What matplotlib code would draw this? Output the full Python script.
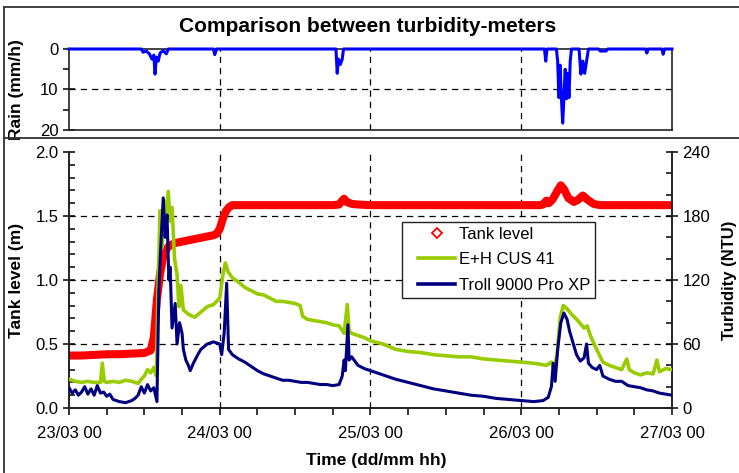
import pandas as pd
import matplotlib
matplotlib.use('Agg')
import matplotlib.pyplot as plt
import matplotlib.dates as mdates
from matplotlib.lines import Line2D
from matplotlib.legend_handler import HandlerLine2D
from matplotlib.ticker import MultipleLocator, FormatStrFormatter

plt.rcParams['font.family'] = ['Liberation Sans', 'DejaVu Sans']
plt.rcParams['font.size'] = 12

START = pd.Timestamp('2008-03-23 00:00')

# rain intensity (mm/h), hours since 23/03 00
rain_hours = [0, 11.5, 11.8, 12.3, 12.8, 13.2, 13.5, 13.7, 13.9, 14.2, 14.5, 15.0, 15.5, 15.8,
              23.0, 23.2, 23.5, 42.5, 42.7, 42.9, 43.2, 43.5, 43.7,
              75.7, 75.9, 76.1, 77.6, 77.8, 78.0, 78.2, 78.4, 78.6, 78.8, 79.0, 79.2, 79.4,
              79.6, 79.8, 80.0,
              81.2, 81.5, 81.8, 82.1, 82.4, 82.7, 84.3, 84.6, 85.5, 85.8,
              91.8, 92.0, 92.2, 94.4, 94.6, 94.8, 96]
rain_mmh = [0, 0, 0.8, 0.5, 1.2, 2.5, 1.5, 6.2, 2.0, 3.0, 1.0, 0.4, 1.2, 0,
            0, 1.4, 0, 0, 6.0, 2.5, 3.8, 2.5, 0,
            0, 3.0, 0, 0, 3.0, 12.0, 4.0, 12.3, 18.3, 12.0, 5.0, 12.3, 6.0,
            12.0, 3.0, 0,
            0, 6.2, 3.0, 6.0, 3.0, 0, 0, 0.5, 0.5, 0,
            0, 1.0, 0, 0, 1.3, 0, 0]

# tank level (m)
tank_hours = [0, 2, 4, 6, 8, 10, 12, 13, 13.5, 14, 14.5, 15, 15.5, 16, 17, 18, 19, 20, 21, 22,
              23, 23.5, 24, 24.5, 25, 25.5, 26, 30, 34, 38, 42, 43, 43.5, 43.8, 44.2, 45, 46,
              48, 56, 64, 72, 75, 75.5, 76, 76.4, 77, 77.8, 78.3, 78.8, 79.5, 80.4, 81, 81.8,
              82.5, 83.5, 84.5, 90, 96]
tank_level_m = [0.41, 0.41, 0.415, 0.42, 0.42, 0.425, 0.43, 0.45, 0.55, 0.85, 1.05, 1.18, 1.24,
                1.27, 1.29, 1.30, 1.31, 1.32, 1.33, 1.34, 1.35, 1.36, 1.40, 1.48, 1.54, 1.57,
                1.585, 1.585, 1.585, 1.585, 1.585, 1.59, 1.62, 1.635, 1.61, 1.595, 1.59,
                1.585, 1.585, 1.585, 1.585, 1.585, 1.59, 1.62, 1.60, 1.63, 1.70, 1.74, 1.71,
                1.64, 1.61, 1.625, 1.66, 1.63, 1.595, 1.585, 1.585, 1.585]

# turbidity E+H CUS 41 (NTU)
eh_hours = [0, 1, 2, 3, 4, 5, 5.3, 5.6, 6, 7, 8, 9, 10, 11, 11.5, 12, 12.5, 13, 13.5, 13.9,
            14.2, 14.5, 14.8, 15.1, 15.4, 15.8, 16.1, 16.4, 16.8, 17.2, 17.5, 17.8, 18.2,
            19, 20, 21, 22, 23, 24, 24.5, 24.9, 25.3, 26, 27, 28, 29, 30, 31, 32, 33, 34,
            35, 36, 36.8, 37.2, 38, 39, 40, 41, 42, 43, 43.8, 44.3, 44.6, 45, 46, 47, 48,
            50, 52, 54, 56, 58, 60, 62, 64, 66, 68, 70, 72, 74, 76, 76.8, 77.2, 77.7, 78.2,
            78.7, 79.3, 80, 81, 82, 82.5, 83, 84, 85, 86, 87, 88, 88.8, 89.2, 90, 91, 92,
            93, 93.6, 94, 95, 96]
eh_ntu = [27, 25, 24, 25, 24, 24, 42, 25, 24, 25, 24, 26, 25, 23, 27, 30, 36, 33, 38, 30,
          120, 185, 150, 195, 170, 203, 175, 188, 140, 125, 95, 115, 92,
          88, 85, 90, 95, 97, 103, 125, 136, 128, 122, 118, 113, 110, 107, 106, 103, 100, 100,
          99, 98, 96, 86, 83, 82, 81, 80, 78, 77, 70, 97, 72, 70, 68, 66, 63,
          60, 55, 53, 52, 50, 49, 48, 48, 46, 45, 44, 43, 42, 40, 43, 36, 50, 85,
          96, 93, 88, 82, 75, 77, 68, 55, 43, 40, 38, 36, 46, 36, 33, 31, 33,
          32, 45, 34, 37, 36]

# turbidity Troll 9000 Pro XP (NTU)
troll_hours = [0, 0.5, 1, 1.5, 2, 2.5, 3, 3.5, 4, 4.5, 5, 5.5, 6, 6.5, 7, 8, 9, 10, 10.5, 11,
               11.5, 12, 12.5, 13, 13.5, 14, 14.3, 14.6, 15.0, 15.3, 15.6, 15.9, 16.1, 16.4,
               16.9, 17.2, 17.6, 18.0, 18.2, 18.6, 19, 19.3, 19.8, 20.5, 21, 22, 23, 24, 24.3,
               24.7, 25.1, 25.4, 26, 27, 28, 29, 30, 31, 32, 33, 34, 35, 36, 37, 38, 39, 40,
               41, 42, 43, 43.5, 43.8, 44, 44.4, 44.6, 45, 45.5, 46, 47, 48, 50, 52, 54, 56,
               58, 60, 62, 64, 66, 68, 70, 72, 74, 75.5, 76.3, 76.8, 77.1, 77.4, 77.8, 78.3,
               78.8, 79.3, 79.7, 80.2, 80.8, 81.4, 82, 82.4, 82.7, 83.3, 84, 84.5, 85, 86, 87,
               88, 89, 90, 91, 92, 93, 94, 95, 96]
troll_ntu = [19, 14, 17, 12, 15, 20, 13, 18, 12, 21, 14, 15, 11, 13, 8, 6, 5, 7, 9, 12,
             20, 14, 22, 16, 19, 6, 110, 150, 197, 160, 181, 120, 132, 75,
             98, 60, 80, 70, 55, 45, 40, 35, 42, 50, 55, 60, 62, 60, 50,
             70, 117, 55, 50, 46, 43, 39, 35, 32, 30, 28, 26, 26, 25, 24, 24, 23, 22,
             22, 21, 22, 30, 45, 35, 78, 45, 48, 44, 40, 37, 35, 31, 27, 24, 21,
             18, 16, 14, 12, 11, 9, 8, 7, 6, 7, 10, 20, 42, 25, 55, 80,
             89, 83, 72, 62, 50, 44, 47, 60, 42, 38, 36, 40, 30, 27, 25,
             25, 21, 20, 19, 17, 16, 14, 13, 12]


def to_time(hours):
    return START + pd.to_timedelta(hours, unit='h')


def dashed_grid(ax, xs, ys):
    for x in xs:
        ax.axvline(x, color='black', lw=0.9, ls=(0, (5, 4)), zorder=0.5)
    for y in ys:
        ax.axhline(y, color='black', lw=0.9, ls=(0, (5, 4)), zorder=0.5)


fig = plt.figure(figsize=(7.39, 4.73), dpi=100)
ax_rain = fig.add_axes([0.0934, 0.7252, 0.8159, 0.1712])
ax = fig.add_axes([0.0934, 0.1374, 0.8159, 0.5412])
ax_ntu = ax.twinx()

t0 = START
t1 = START + pd.Timedelta(days=4)
inner_days = pd.date_range(t0, t1, freq='D')[1:-1]

# rain panel
ax_rain.plot(to_time(rain_hours), rain_mmh, color='#0000FF', lw=2.2, clip_on=False, zorder=3)
ax_rain.set_xlim(t0, t1)
ax_rain.set_ylim(20, 0)
ax_rain.yaxis.set_major_locator(MultipleLocator(10))
ax_rain.yaxis.set_minor_locator(MultipleLocator(5))
ax_rain.tick_params(axis='y', which='major', direction='inout', length=8, width=1.1, labelsize=12)
ax_rain.tick_params(axis='y', which='minor', direction='out', length=4, width=1.1)
ax_rain.tick_params(axis='x', which='both', bottom=False, labelbottom=False)
ax_rain.set_ylabel('Rain (mm/h)', fontsize=12.5, fontweight='bold')
ax_rain.yaxis.set_label_coords(-0.075, 0.5)
dashed_grid(ax_rain, inner_days, [10])
for sp in ax_rain.spines.values():
    sp.set_linewidth(1.2)
    sp.set_color('#222222')

# tank level and turbidity panel
ax.plot(to_time(tank_hours), tank_level_m, color='#FF0000', lw=5.8, solid_joinstyle='round',
        solid_capstyle='round', zorder=2)
ax.set_xlim(t0, t1)
ax.set_ylim(0, 2.0)
ax.yaxis.set_major_locator(MultipleLocator(0.5))
ax.yaxis.set_minor_locator(MultipleLocator(0.1))
ax.yaxis.set_major_formatter(FormatStrFormatter('%.1f'))
ax.xaxis.set_major_locator(mdates.DayLocator())
ax.xaxis.set_minor_locator(mdates.HourLocator(byhour=[6, 12, 18]))
ax.xaxis.set_major_formatter(mdates.DateFormatter('%d/%m %H'))
ax.tick_params(axis='y', which='major', direction='inout', length=8, width=1.1, labelsize=12)
ax.tick_params(axis='y', which='minor', direction='in', length=4, width=1.1)
ax.tick_params(axis='x', which='both', direction='out', length=5, width=1.1, labelsize=12, pad=8)
ax.set_ylabel('Tank level (m)', fontsize=12.5, fontweight='bold')
ax.yaxis.set_label_coords(-0.075, 0.5)
dashed_grid(ax, inner_days, [0.5, 1.0, 1.5])

ax_ntu.plot(to_time(eh_hours), eh_ntu, color='#99CC00', lw=2.6, zorder=3)
ax_ntu.plot(to_time(troll_hours), troll_ntu, color='#000080', lw=2.2, zorder=4)
ax_ntu.set_ylim(0, 240)
ax_ntu.yaxis.set_major_locator(MultipleLocator(60))
ax_ntu.yaxis.set_minor_locator(MultipleLocator(20))
ax_ntu.tick_params(axis='y', which='major', direction='inout', length=8, width=1.1, labelsize=12)
ax_ntu.tick_params(axis='y', which='minor', direction='in', length=4, width=1.1)
ax_ntu.set_ylabel('Turbidity (NTU)', fontsize=12, fontweight='bold')
ax_ntu.yaxis.set_label_coords(1.083, 0.5)

for a in (ax, ax_ntu):
    a.spines['top'].set_visible(False)
    for sp in a.spines.values():
        sp.set_linewidth(1.2)
        sp.set_color('#222222')

handles = [
    Line2D([], [], ls='none', marker='D', ms=5, mfc='white', mec='#FF0000', mew=1.3),
    Line2D([], [], color='#99CC00', lw=2.6),
    Line2D([], [], color='#000080', lw=2.6),
]
leg = ax_ntu.legend(handles, ['Tank level', 'E+H CUS 41', 'Troll 9000 Pro XP'],
                    loc='upper left', bbox_to_anchor=(0.552, 0.727), fontsize=12,
                    frameon=True, fancybox=False, framealpha=1, edgecolor='#222222',
                    borderpad=0.3, labelspacing=0.62, handlelength=2.9, handletextpad=0.2,
                    borderaxespad=0, handler_map={Line2D: HandlerLine2D(xpad=0.66)})
leg.get_frame().set_linewidth(1.0)

fig.text(0.497, 0.945, 'Comparison between turbidity-meters', ha='center', va='center',
         fontsize=15, fontweight='bold')
fig.text(0.509, 0.027, 'Time (dd/mm hh)', ha='center', va='center',
         fontsize=12.5, fontweight='bold')

# panel frames
frame = dict(color='#333333', lw=1.3, transform=fig.transFigure)
fig.add_artist(Line2D([4 / 739, 4 / 739], [0, 1 - 7 / 473], **frame))
fig.add_artist(Line2D([4 / 739, 1], [1 - 7 / 473, 1 - 7 / 473], **frame))
fig.add_artist(Line2D([4 / 739, 1], [1 - 137.5 / 473, 1 - 137.5 / 473], **frame))

fig.savefig('out.png', dpi=100)
